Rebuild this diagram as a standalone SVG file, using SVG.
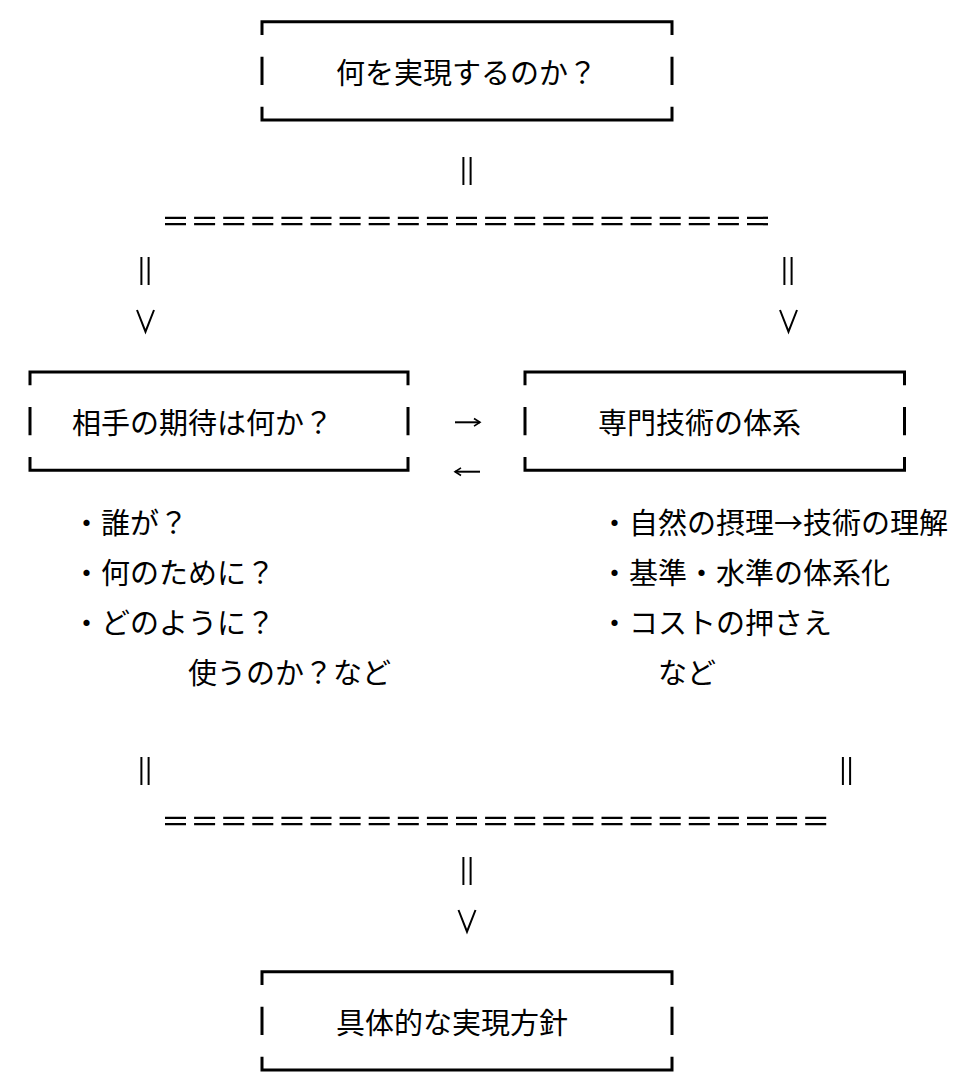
<svg xmlns="http://www.w3.org/2000/svg" width="972" height="1089" viewBox="0 0 972 1089">
<style>
.bx{fill:none;stroke:#000;stroke-width:3;stroke-linecap:butt;stroke-linejoin:miter}
.t{font-family:"Noto Sans CJK JP","Noto Sans CJK SC",sans-serif;font-size:29px;fill:#000;dominant-baseline:central}
.c{fill:none;stroke:#000;stroke-width:2}
.eq{fill:none;stroke:#000;stroke-width:2.3;stroke-dasharray:21 8.1}
</style>
<defs>
<g id="par"><line x1="-3.6" y1="0" x2="-3.6" y2="28" class="c"/><line x1="3.6" y1="0" x2="3.6" y2="28" class="c"/></g>
<polyline id="vee" points="-8.5,0 0,21.7 8.5,0" class="c"/>
</defs>
<rect width="972" height="1089" fill="#fff"/>

<g id="node-goal">
<path class="bx" d="M262,35 V21.7 H672 V35 M262,56.7 V85 M672,56.7 V85 M262,106.7 V120 H672 V106.7"/>
<text class="t" x="336" y="71">何を実現するのか？</text>
</g>

<g id="node-expect">
<path class="bx" d="M30,385.3 V372 H408 V385.3 M30,407 V435.3 M408,407 V435.3 M30,457 V470.3 H408 V457"/>
<text class="t" x="72" y="421">相手の期待は何か？</text>
</g>

<g id="node-tech">
<path class="bx" d="M525,385.3 V372 H904.5 V385.3 M525,407 V435.3 M904.5,407 V435.3 M525,457 V470.3 H904.5 V457"/>
<text class="t" x="598" y="421">専門技術の体系</text>
</g>

<g id="node-expect-notes">
<text class="t" x="72" y="521">・誰が？</text>
<text class="t" x="72" y="571">・何のために？</text>
<text class="t" x="72" y="621">・どのように？</text>
<text class="t" x="188" y="671">使うのか？など</text>
</g>

<g id="node-tech-notes">
<text class="t" x="600" y="521">・自然の摂理→技術の理解</text>
<text class="t" x="600" y="571">・基準・水準の体系化</text>
<text class="t" x="600" y="621">・コストの押さえ</text>
<text class="t" x="658" y="671">など</text>
</g>

<g id="node-policy">
<path class="bx" d="M262,985 V971.7 H672 V985 M262,1006.7 V1035 M672,1006.7 V1035 M262,1056.7 V1070 H672 V1056.7"/>
<text class="t" x="336" y="1021">具体的な実現方針</text>
</g>

<g id="connectors">
<use href="#par" x="467" y="157"/>
<line class="eq" x1="165" y1="217.8" x2="776.1" y2="217.8"/>
<line class="eq" x1="165" y1="224.2" x2="776.1" y2="224.2"/>
<use href="#par" x="145" y="257"/>
<use href="#par" x="788" y="257"/>
<use href="#vee" x="145.5" y="310"/>
<use href="#vee" x="788.5" y="310"/>
<line x1="455" y1="422.3" x2="480" y2="422.3" stroke="#000" stroke-width="2"/>
<polyline points="474,418.5 480,422.3 474,426.1" fill="none" stroke="#000" stroke-width="1.6"/>
<line x1="455" y1="471.7" x2="480" y2="471.7" stroke="#000" stroke-width="2"/>
<polyline points="461,467.9 455,471.7 461,475.5" fill="none" stroke="#000" stroke-width="1.6"/>
<use href="#par" x="145" y="757"/>
<use href="#par" x="846.5" y="757"/>
<line class="eq" x1="165" y1="817.8" x2="834.3" y2="817.8"/>
<line class="eq" x1="165" y1="824.2" x2="834.3" y2="824.2"/>
<use href="#par" x="467" y="857"/>
<use href="#vee" x="467" y="910"/>
</g>
</svg>
